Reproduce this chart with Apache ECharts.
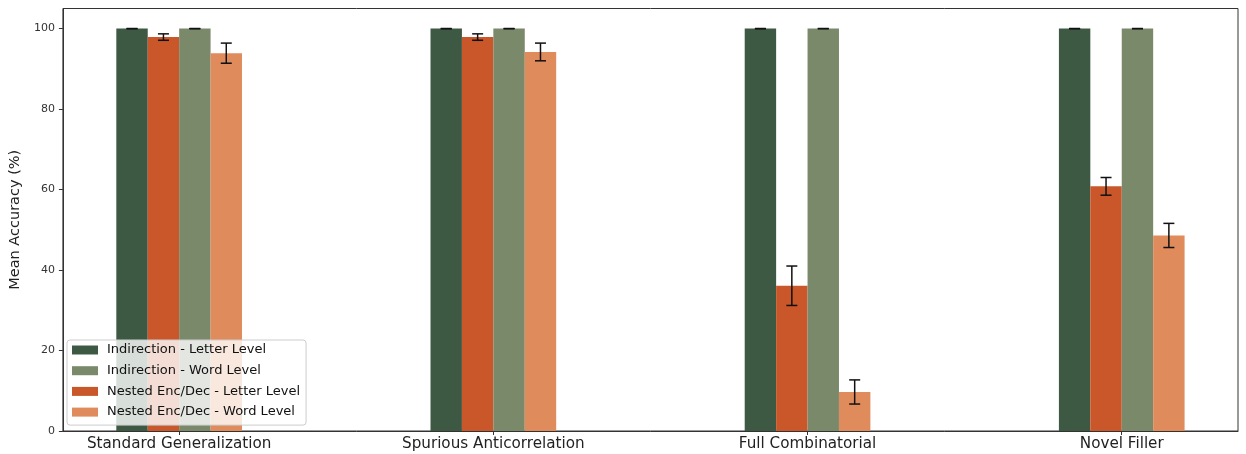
<!DOCTYPE html>
<html>
<head>
<meta charset="utf-8">
<script src="https://cdn.jsdelivr.net/npm/echarts@6/dist/echarts.min.js"></script>
<style>
  html, body { margin: 0; padding: 0; background: #fff; }
  #chart { width: 1246px; height: 454px; }
</style>
</head>
<body>
<div id="chart"></div>
<script>
// Task categories along the x axis
const categories = ['Standard Generalization', 'Spurious Anticorrelation', 'Full Combinatorial', 'Novel Filler'];

// Mean accuracy (%) per model / tokenisation level, with error half-widths
const indirectionLetter = [100, 100, 100, 100];
const indirectionLetterErr = [0, 0, 0, 0];
const nestedLetter = [97.9, 97.9, 36.1, 60.8];
const nestedLetterErr = [0.8, 0.8, 4.9, 2.2];
const indirectionWord = [100, 100, 100, 100];
const indirectionWordErr = [0, 0, 0, 0];
const nestedWord = [93.9, 94.2, 9.7, 48.6];
const nestedWordErr = [2.5, 2.2, 3.0, 3.0];

// Y axis tick values
const yTicks = [0, 20, 40, 60, 80, 100];

const BAR_W = 0.1;
const FONT = 'DejaVu Sans';

function rows(vals, errs) {
  return vals.map((v, i) => [i, v, errs[i]]);
}

function barWithError(offset) {
  return function (params, api) {
    const x = api.value(0) + offset;
    const v = api.value(1);
    const e = api.value(2);
    const tl = api.coord([x - BAR_W / 2, v]);
    const br = api.coord([x + BAR_W / 2, 0]);
    const top = api.coord([x, v + e]);
    const bot = api.coord([x, v - e]);
    const cap = 5.5;
    const stroke = { stroke: '#111', lineWidth: 1.5 };
    return {
      type: 'group',
      children: [
        { type: 'rect', shape: { x: tl[0], y: tl[1], width: br[0] - tl[0], height: br[1] - tl[1] },
          style: { fill: api.visual('color') } },
        { type: 'line', shape: { x1: top[0], y1: top[1], x2: bot[0], y2: bot[1] }, style: stroke, z2: 10 },
        { type: 'line', shape: { x1: top[0] - cap, y1: top[1], x2: top[0] + cap, y2: top[1] }, style: stroke, z2: 10 },
        { type: 'line', shape: { x1: bot[0] - cap, y1: bot[1], x2: bot[0] + cap, y2: bot[1] }, style: stroke, z2: 10 }
      ]
    };
  };
}

const seriesDefs = [
  { name: 'Indirection - Letter Level', color: '#3d5943', offset: -0.15, data: rows(indirectionLetter, indirectionLetterErr) },
  { name: 'Nested Enc/Dec - Letter Level', color: '#c9572a', offset: -0.05, data: rows(nestedLetter, nestedLetterErr) },
  { name: 'Indirection - Word Level', color: '#79896a', offset: 0.05, data: rows(indirectionWord, indirectionWordErr) },
  { name: 'Nested Enc/Dec - Word Level', color: '#e08b5c', offset: 0.15, data: rows(nestedWord, nestedWordErr) }
];

const chart = echarts.init(document.getElementById('chart'), null, { renderer: 'canvas' });

chart.setOption({
  animation: false,
  backgroundColor: '#fff',
  textStyle: { fontFamily: FONT },
  grid: {
    left: 60, right: 8, top: 8.5, bottom: 23,
    show: true, borderColor: '#333', borderWidth: 1, containLabel: false
  },
  legend: {
    orient: 'vertical',
    left: 67, top: 340,
    data: ['Indirection - Letter Level', 'Indirection - Word Level', 'Nested Enc/Dec - Letter Level', 'Nested Enc/Dec - Word Level'],
    icon: 'rect',
    itemWidth: 26, itemHeight: 9, itemGap: 6.7,
    padding: [3, 6, 6, 5],
    backgroundColor: 'rgba(255,255,255,0.8)',
    borderColor: '#ccc', borderWidth: 1, borderRadius: 3,
    textStyle: { fontFamily: FONT, fontSize: 13, color: '#111', lineHeight: 14, padding: [0, 0, 0, 4] },
    selectedMode: false
  },
  xAxis: {
    type: 'value',
    min: -0.37, max: 3.37,
    splitLine: { show: false },
    axisLine: { show: true, onZero: false, lineStyle: { color: '#333', width: 1 } },
    axisTick: { show: true, length: 4, customValues: [0, 1, 2, 3], lineStyle: { color: '#333' } },
    axisLabel: {
      customValues: [0, 1, 2, 3],
      formatter: (v) => categories[Math.round(v)],
      fontFamily: FONT, fontSize: 15.2, color: '#222', margin: 6
    }
  },
  yAxis: {
    type: 'value',
    min: 0, max: 105,
    name: 'Mean Accuracy (%)',
    nameLocation: 'middle',
    nameGap: 29,
    nameTextStyle: { fontFamily: FONT, fontSize: 14.5, color: '#222' },
    splitLine: { show: false },
    axisLine: { show: true, onZero: false, lineStyle: { color: '#333', width: 1 } },
    axisTick: { show: true, length: 4, customValues: yTicks, lineStyle: { color: '#333' } },
    axisLabel: { customValues: yTicks, fontFamily: FONT, fontSize: 11, color: '#333', margin: 8 }
  },
  series: seriesDefs.map((s) => ({
    type: 'custom',
    name: s.name,
    itemStyle: { color: s.color },
    encode: { x: 0, y: 1 },
    renderItem: barWithError(s.offset),
    data: s.data
  }))
});
</script>
</body>
</html>
